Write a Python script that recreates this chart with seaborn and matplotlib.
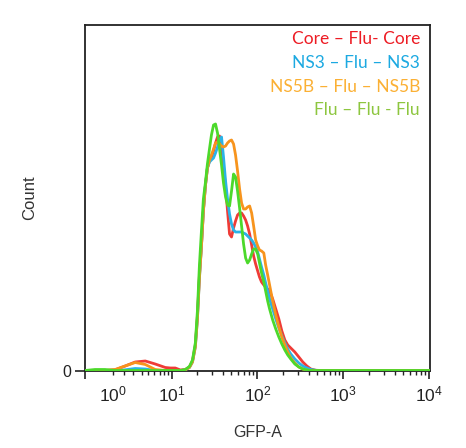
import pandas as pd
import matplotlib.pyplot as plt
import seaborn as sns

samples = ["Core \u2013 Flu- Core", "NS3 \u2013 Flu \u2013 NS3",
           "NS5B \u2013 Flu \u2013 NS5B", "Flu \u2013 Flu - Flu"]
line_colors = ["#ef3b36", "#2bb3e6", "#f7941d", "#4cd92b"]
text_colors = ["#ed1c24", "#1ca9e1", "#fbb034", "#8dc63f"]

# GFP-A bin centres
gfp = [-1.28, -0.44, 0.37, 1.21, 2.13, 3.21, 4.53, 6.15, 8.25, 9.5, 10.9, 12.6,
       14.4, 16.1, 17.5, 18.9,
       20.0, 21.1, 22.3, 23.5, 24.8, 26.2, 27.7, 29.2, 30.9, 32.6, 34.4, 36.3,
       38.3, 40.4, 42.7, 45.0, 47.5, 50.1, 52.9, 55.8, 58.9, 62.2, 65.6, 69.2,
       73.1, 77.1, 81.4, 85.9, 90.6, 95.6, 101, 106, 112, 119, 125, 132, 139,
       151, 164, 178, 193, 209, 226, 245,
       273, 304, 338, 377, 419,
       480, 549, 718, 1075, 1839, 3601, 10200]

core = [0.5, 0.5, 0.5, 1.2, 5, 9, 10, 7, 3.5, 3, 3, 1,
        1.5, 4, 10, 26,
        55, 95, 125, 160, 185, 203, 210, 214, 220, 228, 234, 235,
        225, 205, 184, 160, 137, 134, 143, 150, 156, 158, 158, 155,
        151, 145, 137, 126, 115, 107, 100, 94, 89, 86, 84, 82, 80,
        72, 62, 52, 40, 31, 26, 23,
        19, 14, 9, 5, 2,
        0.7, 0.5, 0.5, 0.5, 0.5, 0.5, 0.5]

ns3 = [0.5, 0.5, 0.5, 0.5, 1.2, 2.5, 2, 0.5, 0.5, 0.5, 0.5, 0.5,
       1.2, 3.5, 9, 24,
       52, 92, 125, 160, 185, 203, 209, 211, 213, 218, 224, 231,
       234, 214, 190, 172, 157, 147, 141, 139, 139, 139, 139, 138,
       137, 135, 133, 131, 128, 124, 119, 112, 104, 96, 88, 80, 72,
       62, 52, 43, 35, 28, 22, 17,
       12, 8, 5, 3, 1.5,
       0.7, 0.5, 0.5, 0.5, 0.5, 0.5, 0.5]

ns5b = [0.5, 0.5, 0.5, 1.5, 5, 8.5, 6.5, 1.5, 0.5, 0.5, 0.5, 0.5,
        1.2, 3.5, 9, 24,
        52, 92, 125, 160, 185, 203, 211, 216, 222, 228, 229, 227,
        225, 224, 225, 228, 230, 231, 227, 216, 200, 182, 168, 162,
        162, 164, 165, 158, 145, 131, 125, 121, 120, 118, 106, 96, 86,
        70, 56, 44, 34, 26, 19, 13,
        8, 4, 2, 0.8, 0.5,
        0.5, 0.5, 0.5, 0.5, 0.5, 0.5, 0.5]

flu = [0.5, 1.5, 1.5, 0.5, 0.5, 0.5, 0.5, 0.5, 0.5, 0.5, 0.5, 0.5,
       1.5, 4.5, 11, 28,
       60, 105, 140, 172, 188, 207, 222, 236, 246, 247, 238, 222,
       206, 188, 174, 166, 165, 180, 197, 194, 180, 163, 145, 127,
       113, 108, 111, 117, 122, 122, 117, 108, 98, 89, 80, 70, 62,
       51, 42, 34, 27, 21, 16, 12,
       7, 4, 2, 1, 0.5,
       0.5, 0.5, 0.5, 0.5, 0.5, 0.5, 0.5]

df = pd.DataFrame({
    "GFP-A": gfp * 4,
    "Count": core + ns3 + ns5b + flu,
    "sample": [s for s in samples for _ in gfp],
})

sns.set_style("ticks")
plt.rcParams["font.family"] = ["Liberation Sans", "DejaVu Sans"]
plt.rcParams["mathtext.fontset"] = "custom"
plt.rcParams["mathtext.rm"] = "Liberation Sans"
plt.rcParams["mathtext.default"] = "rm"

fig = plt.figure(figsize=(4.66, 4.48), dpi=100)
ax = fig.add_axes([85 / 466, 1 - 371 / 448, 345 / 466, 346 / 448])

sns.lineplot(data=df, x="GFP-A", y="Count", hue="sample", hue_order=samples,
             palette=line_colors, estimator=None, linewidth=2.0, legend=False,
             ax=ax, zorder=3)

ax.set_xscale("asinh", linear_width=3)
ax.set_xlim(-1.28, 10200)
ax.set_ylim(0, 346)

# axis ticks
major = [-1.28, 10, 100, 1000, 10000]
major_labels = ["", "$10^{1}$", "$10^{2}$", "$10^{3}$", "$10^{4}$"]
minor = [m * 10 ** k for k in range(4) for m in range(1, 10) if not (k > 0 and m == 1)]
minor_labels = ["$10^{0}$" if v == 1 else "" for v in minor]
ax.set_xticks(major, major_labels)
ax.set_xticks(minor, minor_labels, minor=True)
ax.tick_params(axis="x", which="major", length=6, width=1.2, pad=4,
               labelsize=12.5, colors="#222222")
ax.tick_params(axis="x", which="minor", length=3, width=1.0, pad=7,
               labelsize=12.5, colors="#222222")
ax.set_yticks([0], ["0"])
ax.tick_params(axis="y", length=7, width=1.2, pad=3, labelsize=11.5, colors="#222222")

for sp in ax.spines.values():
    sp.set_visible(True)
    sp.set_color("#222222")
    sp.set_linewidth(1.3)

ax.set_xlabel("GFP-A", fontsize=11.5, color="#333333")
ax.set_ylabel("Count", fontsize=12, color="#333333")
ax.xaxis.set_label_coords(0.5, -0.155)
ax.yaxis.set_label_coords(-0.139, 0.5)

# coloured sample labels in the upper right
for i, (name, col) in enumerate(zip(samples, text_colors)):
    ax.text(0.971, 0.960 - i * 0.069, name, transform=ax.transAxes,
            ha="right", va="center", fontsize=12.5, color=col, family="Lato")

fig.savefig("out.png", dpi=100)
